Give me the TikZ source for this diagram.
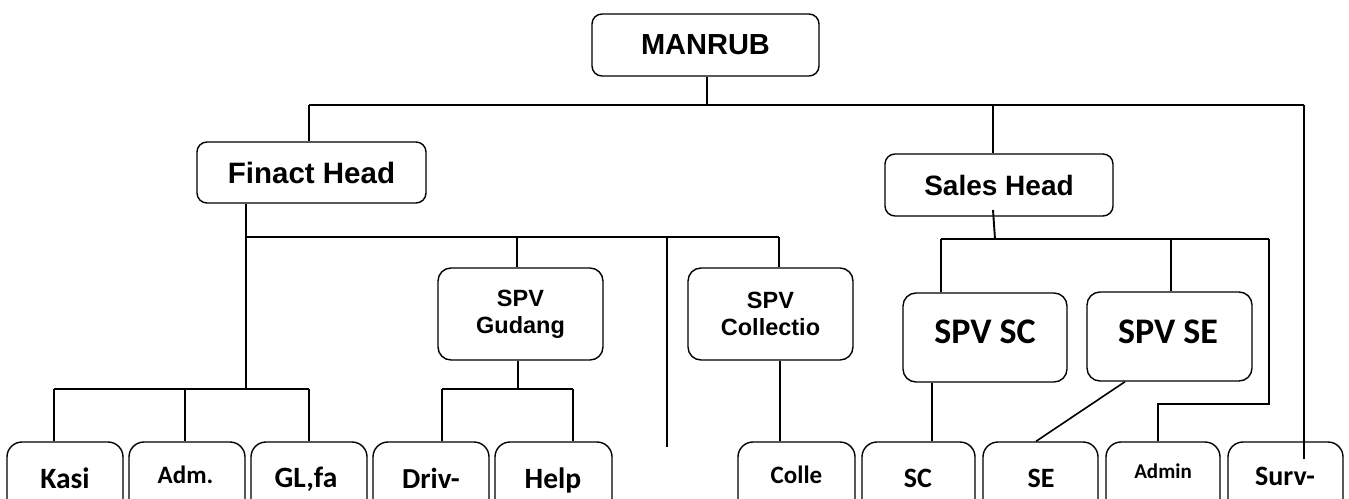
\documentclass[tikz,border=0pt]{standalone}
\usepackage{fontspec}
\setmainfont{Liberation Sans}
\newfontfamily\carl{Carlito}
\usetikzlibrary{calc}
\begin{document}
\begin{tikzpicture}[x=1pt,y=-1pt,
  box/.style={draw, line width=1.4pt, inner sep=0pt, align=center},
  topbox/.style={box, rounded corners=10pt},
  midbox/.style={box, rounded corners=13pt},
  botbox/.style={box, rounded corners=15pt, minimum height=110pt},
  ln/.style={line width=1.9pt},
  afont/.style={font=\bfseries\fontsize{#1}{#1}\selectfont},
  spvfont/.style={font=\bfseries\fontsize{23.5}{27}\selectfont},
  btxt/.style={anchor=base, inner sep=0pt, font=\carl\bfseries\fontsize{#1}{#1}\selectfont}
]
\useasboundingbox (0,0) rectangle (1349,498);
\clip (0,0) rectangle (1349,498);
\fill[white] (0,0) rectangle (1349,498);

% top level boxes
\node[topbox, minimum width=227pt, minimum height=62pt, afont=29] (man) at (705.5,45) {MANRUB};
\node[topbox, minimum width=229pt, minimum height=61pt, afont=29.5] (fin) at (311.5,172.5) {Finact Head};
\node[topbox, minimum width=228pt, minimum height=62pt, afont=28] (sal) at (999,185) {Sales Head};

% middle boxes
\node[midbox, minimum width=165pt, minimum height=92pt, spvfont] (gud) at (520.5,314) {SPV\\Gudang};
\node[midbox, minimum width=165pt, minimum height=92pt, spvfont] (col) at (770.5,314) {SPV\\Collectio};
\node[midbox, minimum width=164pt, minimum height=89pt] (ssc) at (985,337.5) {};
\node[midbox, minimum width=165pt, minimum height=89pt] (sse) at (1169.5,336.5) {};
\node[btxt=36] (sscT) at (985,343) {SPV SC};
\node[btxt=36] (sseT) at (1168,343) {SPV SE};

% bottom boxes
\node[botbox, minimum width=116pt] (kasi) at (65,497) {};
\node[botbox, minimum width=116pt] (adm) at (187,497) {};
\node[botbox, minimum width=116pt] (gl) at (309,497) {};
\node[botbox, minimum width=116pt] (drv) at (431,497) {};
\node[botbox, minimum width=117pt] (hlp) at (553.5,497) {};
\node[botbox, minimum width=117pt] (colle) at (796.5,497) {};
\node[botbox, minimum width=113pt] (sc) at (918.5,497) {};
\node[botbox, minimum width=115pt] (se) at (1040.5,497) {};
\node[botbox, minimum width=114pt] (adn) at (1163,497) {};
\node[botbox, minimum width=115pt] (sur) at (1285.5,497) {};

\node[btxt=29.5] (kasiT) at (65,488) {Kasi};
\node[btxt=25] (admT) at (185.5,483) {Adm.};
\node[btxt=29.5] (glT) at (306,487) {GL,fa};
\node[btxt=29] (drvT) at (431,488) {Driv-};
\node[btxt=29.5] (hlpT) at (553,488) {Help};
\node[btxt=25] (colleT) at (796.5,483) {Colle};
\node[btxt=28] (scT) at (918,487) {SC};
\node[btxt=28] (seT) at (1041,487) {SE};
\node[btxt=21] (adnT) at (1163,478) {Admin};
\node[btxt=28] (surT) at (1285,485) {Surv-};

% junction coordinates
\coordinate (m0) at (707,105);
\coordinate (h0L) at (309,105);
\coordinate (h0S) at (993,105);
\coordinate (h0R) at (1304,105);
\coordinate (surEnd) at (1304,459);

\coordinate (h1L) at (246,237);
\coordinate (h1G) at (517,237);
\coordinate (h1M) at (667,237);
\coordinate (h1R) at (779,237);
\coordinate (freeEnd) at (667,447);

\coordinate (k0) at (246,389);
\coordinate (kL) at (54,389);
\coordinate (kM) at (185,389);
\coordinate (kR) at (309,389);

\coordinate (g0) at (518,389);
\coordinate (gL) at (442,389);
\coordinate (gR) at (573,389);

\coordinate (sTop) at (993,210);
\coordinate (s0) at (995,239);
\coordinate (sL) at (941,239);
\coordinate (sM) at (1171,239);
\coordinate (sR) at (1269,239);
\coordinate (aR) at (1269,404);
\coordinate (aL) at (1158,404);

\coordinate (scx) at (932,0);
\coordinate (sex) at (1125,0);
\coordinate (sey) at (1036,0);
\coordinate (colx) at (780,0);

% connectors
\draw[ln] (man.south -| m0) -- (m0);
\draw[ln] (h0L) -- (h0R);
\draw[ln] (h0L) -- (fin.north -| h0L);
\draw[ln] (h0S) -- (sal.north -| h0S);
\draw[ln] (h0R) -- (surEnd);

\draw[ln] (fin.south -| h1L) -- (h1L) -- (h1R);
\draw[ln] (h1L) -- (k0);
\draw[ln] (h1G) -- (gud.north -| h1G);
\draw[ln] (h1M) -- (freeEnd);
\draw[ln] (h1R) -- (col.north -| h1R);

\draw[ln] (kL) -- (kR);
\draw[ln] (kL) -- (kasi.north -| kL);
\draw[ln] (kM) -- (adm.north -| kM);
\draw[ln] (kR) -- (gl.north -| kR);

\draw[ln] (gud.south -| g0) -- (g0);
\draw[ln] (gL) -- (gR);
\draw[ln] (gL) -- (drv.north -| gL);
\draw[ln] (gR) -- (hlp.north -| gR);

\draw[ln] (col.south -| colx) -- (colle.north -| colx);

\draw[ln] (sTop) -- (s0);
\draw[ln] (sL) -- (sR);
\draw[ln] (sL) -- (ssc.north -| sL);
\draw[ln] (sM) -- (sse.north -| sM);
\draw[ln] (sR) -- (aR) -- (aL) -- (adn.north -| aL);

\draw[ln] (ssc.south -| scx) -- (sc.north -| scx);
\draw[line width=1.6pt] (sse.south -| sex) -- (se.north -| sey);
\end{tikzpicture}
\end{document}
